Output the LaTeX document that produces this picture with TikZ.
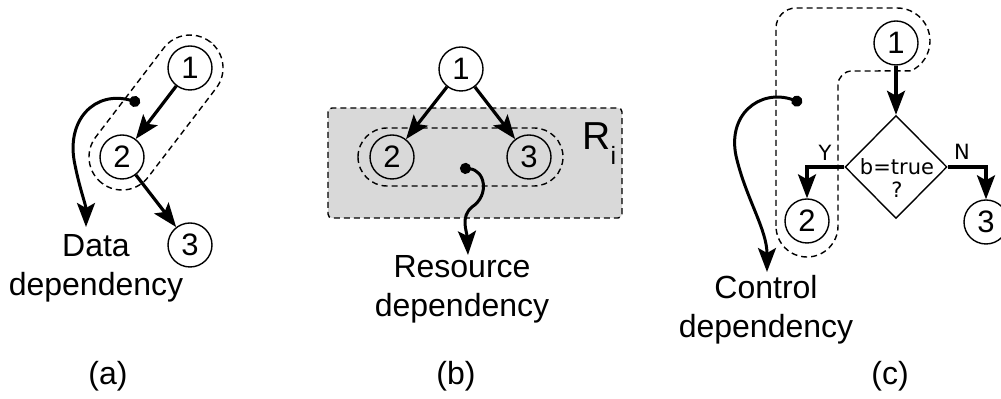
\documentclass[tikz,border=0pt]{standalone}
\usepackage{fontspec}
\setmainfont{Liberation Sans}
\newfontfamily\dvs{DejaVu Sans}
\usetikzlibrary{arrows.meta,shapes.geometric}
\begin{document}
\begin{tikzpicture}[x=0.5pt,y=0.5pt,
  num/.style={circle,draw,line width=0.7pt,minimum size=22pt,inner sep=0pt,font=\fontsize{15.5}{15.5}\selectfont},
  dep/.style={-{Stealth[length=12pt,width=9pt,inset=2.5pt]},line width=1.6pt},
  curly/.style={{Circle[length=5.5pt]}-{Stealth[length=12pt,width=9pt,inset=2.5pt]},line width=1.5pt},
  grp/.style={dash pattern=on 3pt off 2pt,line width=0.7pt},
  lbl/.style={font=\fontsize{16}{19.5}\selectfont,align=center,inner sep=0pt},
  small/.style={font=\dvs\fontsize{10.5}{11.5}\selectfont,align=center,inner sep=0pt},
]
\useasboundingbox (0,0) rectangle (1001,-399);

% ---------- (a) ----------
\draw[grp, rotate around={52.6:(122,-157)}, rounded corners=16.5pt] (89,-190) rectangle (267,-124);
\node[num] (a1) at (190,-68) {1};
\node[num] (a2) at (122,-157) {2};
\node[num] (a3) at (190,-245) {3};
\draw[dep] (a1) -- (a2);
\draw[dep] (a2) -- (a3);
\coordinate (ad) at (140,-103);
\coordinate (at) at (86,-227);
\draw[curly] (ad) .. controls (95,-90) and (65,-120) .. (75,-165) .. controls (80,-190) and (86,-205) .. (at);
\node[lbl, anchor=north] (atext) at (96,-234) {Data\\dependency};
\node[lbl, anchor=base] (la) at (108,-385) {(a)};

% ---------- (b) ----------
\draw[grp, fill=black!15, rounded corners=2pt] (328,-108) rectangle (622,-218);
\draw[grp, rounded corners=14.5pt] (358,-128) rectangle (563,-186);
\node[num] (b1) at (461,-69) {1};
\node[num] (b2) at (392,-157) {2};
\node[num] (b3) at (529,-157) {3};
\draw[dep] (b1) -- (b2);
\draw[dep] (b1) -- (b3);
\node[anchor=base west, inner sep=0pt, font=\fontsize{19.5}{19.5}\selectfont] (ri) at (582,-150) {R\raisebox{-7.5pt}{\fontsize{12.5}{12.5}\selectfont i}};
\coordinate (bd) at (460,-168);
\coordinate (bt) at (468,-255);
\draw[curly] (bd) .. controls (485,-170) and (490,-195) .. (472,-207) .. controls (460,-217) and (467,-232) .. (bt);
\node[lbl, anchor=north] (btext) at (462,-255) {Resource\\dependency};
\node[lbl, anchor=base] (lb) at (456,-385) {(b)};

% ---------- (c) ----------
\draw[grp] (776,-226) -- (776,-28) arc[start angle=180,end angle=90,radius=10pt]
  -- (897,-8) arc[start angle=90,end angle=-65,radius=16.5pt]
  -- (852,-71) arc[start angle=90,end angle=180,radius=7pt]
  -- (838,-85) -- (838,-226) arc[start angle=0,end angle=-180,radius=15.5pt] -- cycle;
\node[num] (c1) at (896,-43) {1};
\node[draw, diamond, line width=0.7pt, minimum width=51pt, minimum height=51.5pt, inner sep=0pt] (d) at (896,-167) {};
\node[small] (dt) at (897,-178) {b=true\\?};
\node[num] (c2) at (807,-221) {2};
\node[num] (c3) at (986,-222) {3};
\draw[dep] (c1) -- (d.north);
\draw[dep] (d.west) -| (c2);
\draw[dep] (d.east) -| (c3);
\node[small] (ly) at (825,-152.5) {Y};
\node[small] (ln) at (962,-151.5) {N};
\coordinate (cd) at (802,-103);
\coordinate (ct) at (767,-272);
\draw[curly] (cd) .. controls (760,-88) and (725,-115) .. (737,-160) .. controls (747,-200) and (767,-230) .. (ct);
\node[lbl, anchor=north] (ctext) at (766,-275) {Control\\dependency};
\node[lbl, anchor=base] (lc) at (890,-385) {(c)};
\end{tikzpicture}
\end{document}
